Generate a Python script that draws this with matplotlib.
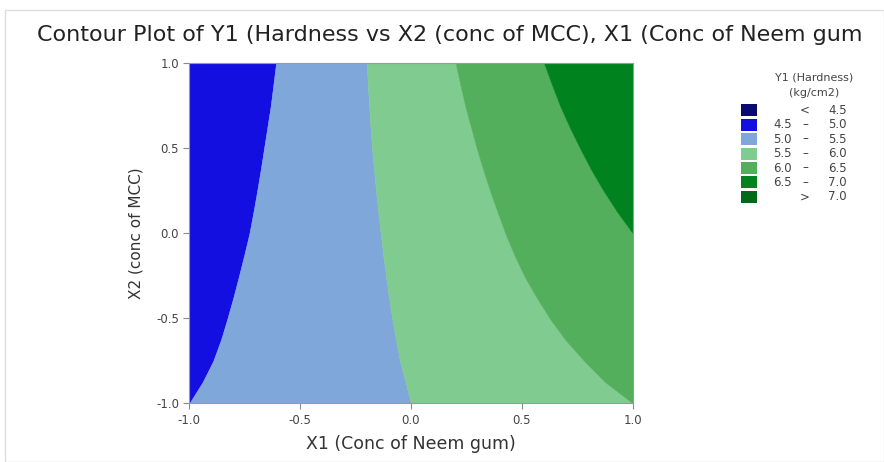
"""Contour plot of Y1 (Hardness) over X1 (Neem gum) and X2 (MCC)."""

import matplotlib

matplotlib.use("Agg")
import matplotlib.pyplot as plt
from matplotlib.patches import Rectangle

plt.rcParams["font.family"] = ["DejaVu Sans"]

x2_levels = [-1.0, -0.875, -0.75, -0.625, -0.5, -0.375, -0.25, -0.125, 0.0,
             0.125, 0.25, 0.375, 0.5, 0.625, 0.75, 0.875, 1.0]

# X1 position of each contour line (Y1 = 5.0, 5.5, 6.0, 6.5) at those X2 levels
line_50 = [-1.0, -0.94, -0.892, -0.857, -0.828, -0.801, -0.776, -0.752, -0.729,
           -0.711, -0.694, -0.678, -0.663, -0.648, -0.633, -0.621, -0.609]
line_55 = [0.0, -0.025, -0.05, -0.068, -0.085, -0.10, -0.113, -0.126, -0.137,
           -0.148, -0.158, -0.167, -0.176, -0.183, -0.189, -0.195, -0.200]
line_60 = [1.0, 0.875, 0.78, 0.695, 0.625, 0.565, 0.51, 0.465, 0.425,
           0.39, 0.356, 0.325, 0.296, 0.27, 0.244, 0.222, 0.201]
line_65 = [1.0, 1.0, 1.0, 1.0, 1.0, 1.0, 1.0, 1.0, 1.0,
           0.93, 0.868, 0.812, 0.762, 0.715, 0.672, 0.635, 0.600]

band_labels = [("", "<", "4.5"), ("4.5", "\u2013", "5.0"), ("5.0", "\u2013", "5.5"),
               ("5.5", "\u2013", "6.0"), ("6.0", "\u2013", "6.5"), ("6.5", "\u2013", "7.0"),
               ("", ">", "7.0")]
band_colors = ["#0a0a70", "#130fe0", "#7fa7d9", "#80cb8f", "#53af5b", "#00821f", "#006a1a"]

W, H = 884, 462
fig = plt.figure(figsize=(W / 100, H / 100), dpi=100)
fig.patches.append(Rectangle((5 / W, 0.0), 1 - 5 / W, 1 - 10 / H, transform=fig.transFigure,
                             fill=False, edgecolor="#dddddd", linewidth=1))
ax = fig.add_axes([189.3 / W, 1 - 403.3 / H, 443.4 / W, 340 / H])

edges = [[-1.0] * len(x2_levels), line_50, line_55, line_60, line_65, [1.0] * len(x2_levels)]
for i in range(len(edges) - 1):
    ax.fill_betweenx(x2_levels, edges[i], edges[i + 1], color=band_colors[i + 1],
                     linewidth=0.3, edgecolor=band_colors[i + 1])

ax.set_xlim(-1, 1)
ax.set_ylim(-1, 1)
ticks = [-1.0, -0.5, 0.0, 0.5, 1.0]
ax.set_xticks(ticks)
ax.set_yticks(ticks)
ax.set_xticklabels([f"{t:.1f}" for t in ticks])
ax.set_yticklabels([f"{t:.1f}" for t in ticks])
ax.tick_params(labelsize=8.5, colors="#8a8a8a", labelcolor="#444444", length=4, width=0.8)
for s in ax.spines.values():
    s.set_color("#9a9a9a")
    s.set_linewidth(0.8)
ax.set_xlabel("X1 (Conc of Neem gum)", fontsize=12.5, color="#333333", labelpad=6)
ax.set_ylabel("X2 (conc of MCC)", fontsize=11, color="#333333", labelpad=9)

fig.text(37 / W, 1 - 35 / H,
         "Contour Plot of Y1 (Hardness vs X2 (conc of MCC), X1 (Conc of Neem gum",
         ha="left", va="center", fontsize=16, color="#222222")

# legend drawn by hand to mimic the Minitab key
fig.text(814 / W, 1 - 77 / H, "Y1 (Hardness)", ha="center", va="center", fontsize=8,
         color="#444444")
fig.text(814 / W, 1 - 93 / H, "(kg/cm2)", ha="center", va="center", fontsize=8,
         color="#444444")
for k, (lo, sep, hi) in enumerate(band_labels):
    yc = 110 + k * 14.5
    fig.patches.append(Rectangle((741 / W, 1 - (yc + 6) / H), 16 / W, 12 / H,
                                 transform=fig.transFigure, facecolor=band_colors[k],
                                 edgecolor="none"))
    fig.text(792 / W, 1 - yc / H, lo, ha="right", va="center", fontsize=8.5, color="#444444")
    fig.text(805 / W, 1 - yc / H, sep, ha="center", va="center", fontsize=8.5, color="#444444")
    fig.text(847 / W, 1 - yc / H, hi, ha="right", va="center", fontsize=8.5, color="#444444")

fig.savefig("out.png", dpi=100)
